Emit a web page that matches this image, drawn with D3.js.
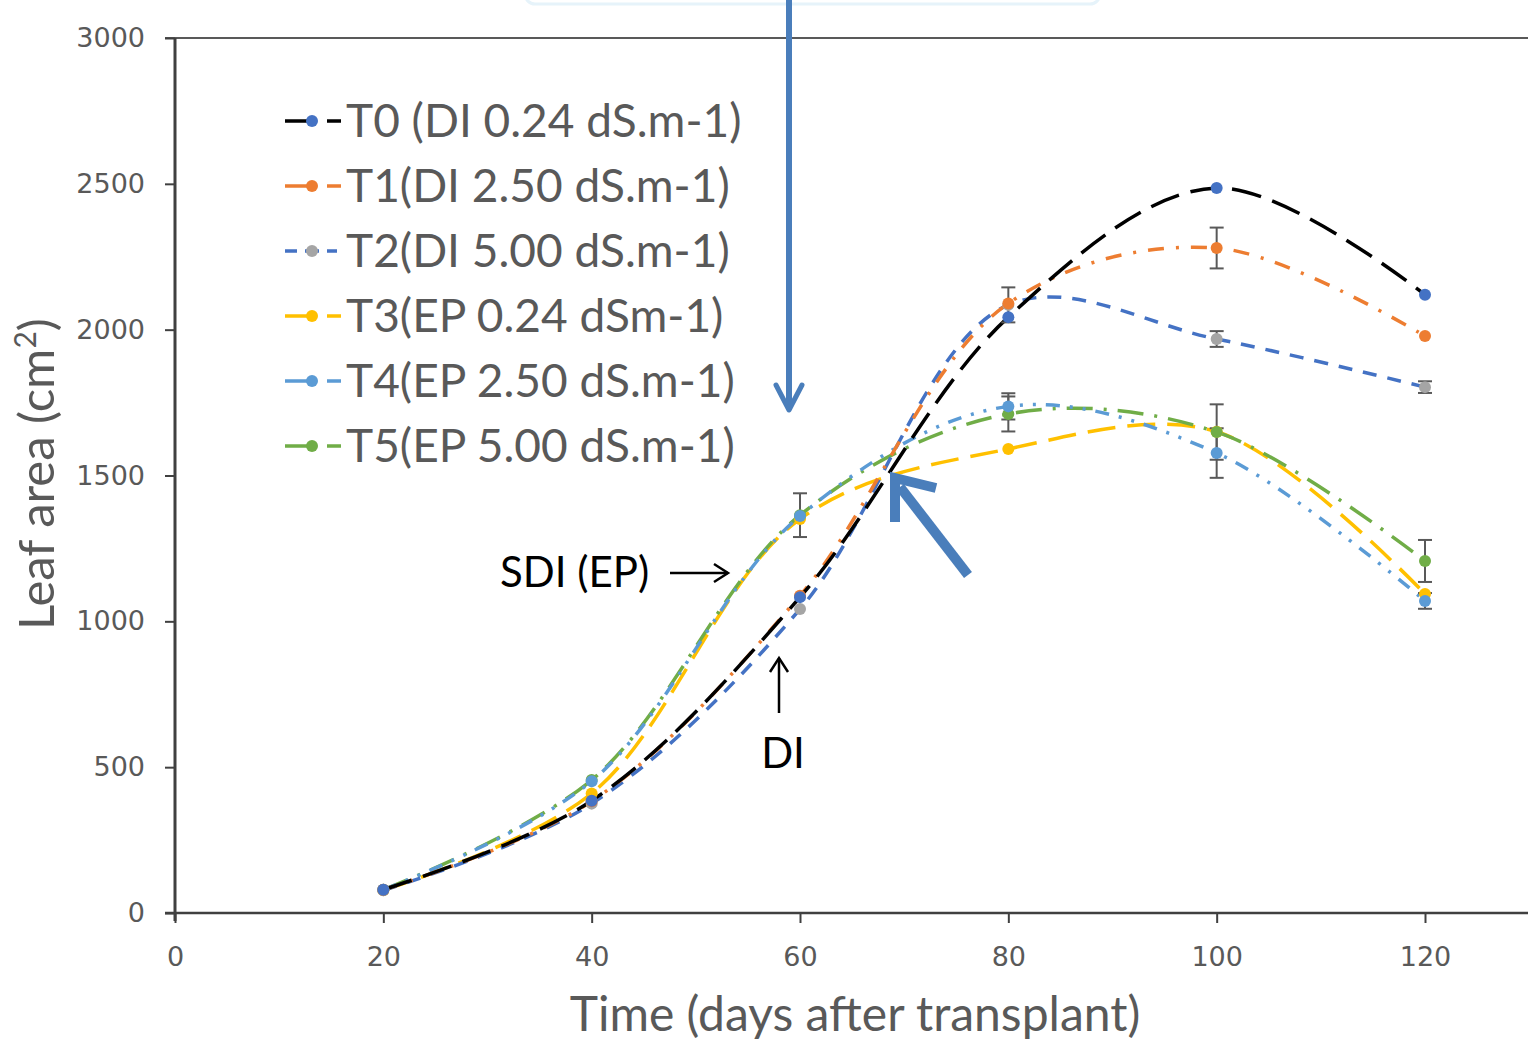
<!DOCTYPE html>
<html>
<head>
<meta charset="utf-8">
<script src="https://cdn.jsdelivr.net/npm/d3@7"></script>
<style>
  body { margin: 0; background: #fff; }
  svg { display: block; }
</style>
</head>
<body>
<svg id="chart" width="1528" height="1040"></svg>
<script>
// days after transplant
var days = [20, 40, 60, 80, 100, 120];

// leaf area (cm2) per treatment
var t0 = [80, 385, 1083, 2043, 2486, 2120];
var t1 = [80, 383, 1088, 2090, 2280, 1978];
var t2 = [78, 375, 1042, 2085, 1968, 1803];
var t3 = [78, 410, 1351, 1591, 1650, 1094];
var t4 = [80, 452, 1361, 1737, 1577, 1070];
var t5 = [80, 456, 1364, 1711, 1649, 1207];

// error bars (+/-), 0 = none shown
var t0Err = [0, 0, 0, 0, 0, 0];
var t1Err = [0, 0, 0, 0, 70, 0];
var t2Err = [0, 0, 0, 60, 27, 20];
var t3Err = [0, 0, 0, 0, 0, 0];
var t4Err = [0, 0, 0, 45, 85, 27];
var t5Err = [0, 0, 75, 60, 95, 72];

var names = ["T0 (DI 0.24 dS.m-1)", "T1(DI 2.50 dS.m-1)", "T2(DI 5.00 dS.m-1)",
             "T3(EP 0.24 dSm-1)", "T4(EP 2.50 dS.m-1)", "T5(EP 5.00 dS.m-1)"];

var xTicks = [0, 20, 40, 60, 80, 100, 120];
var yTicks = [0, 500, 1000, 1500, 2000, 2500, 3000];

(function() {

  var series = [
    { name: names[0], values: t0, err: t0Err, line: "#000000", marker: "#4472C4", dash: "30,12" },
    { name: names[1], values: t1, err: t1Err, line: "#ED7D31", marker: "#ED7D31", dash: "16,12,3,12" },
    { name: names[2], values: t2, err: t2Err, line: "#4472C4", marker: "#A5A5A5", dash: "14,11" },
    { name: names[3], values: t3, err: t3Err, line: "#FFC000", marker: "#FFC000", dash: "28,12" },
    { name: names[4], values: t4, err: t4Err, line: "#5B9BD5", marker: "#5B9BD5", dash: "14,10,3,10,3,10" },
    { name: names[5], values: t5, err: t5Err, line: "#70AD47", marker: "#70AD47", dash: "26,11,3,11" }
  ];

  var svg = d3.select("#chart");
  var plotLeft = 175, plotRight = 1528, plotTop = 38, plotBottom = 913;

  var x = d3.scaleLinear().domain([0, 120]).range([plotLeft, plotLeft + 1250]);
  var y = d3.scaleLinear().domain([0, 3000]).range([plotBottom, plotTop]);

  // faint callout box edge at the very top
  svg.append("rect")
    .attr("x", 525).attr("y", -40).attr("width", 575).attr("height", 44)
    .attr("rx", 10)
    .attr("fill", "#fff")
    .attr("stroke", "#e6f3fa").attr("stroke-width", 3);

  // top frame line
  svg.append("line").attr("x1", plotLeft - 10).attr("x2", plotRight).attr("y1", plotTop).attr("y2", plotTop)
    .attr("stroke", "#595959").attr("stroke-width", 2);

  var gx = svg.append("g").attr("transform", "translate(0," + plotBottom + ")")
    .call(d3.axisBottom(x).tickValues(xTicks).tickSize(10).tickSizeOuter(0));
  gx.select(".domain").remove();
  gx.append("line").attr("x1", plotLeft - 10).attr("x2", plotRight).attr("y1", 0).attr("y2", 0)
    .attr("stroke", "#404040").attr("stroke-width", 2.5);

  var gy = svg.append("g").attr("transform", "translate(" + plotLeft + ",0)")
    .call(d3.axisLeft(y).tickValues(yTicks).tickFormat(d3.format("d")).tickSize(10).tickSizeOuter(0));
  gy.select(".domain").remove();
  gy.append("line").attr("x1", 0).attr("x2", 0).attr("y1", plotTop).attr("y2", plotBottom + 8)
    .attr("stroke", "#404040").attr("stroke-width", 3);

  [gx, gy].forEach(function(g) {
    g.selectAll(".tick line").attr("stroke", "#404040").attr("stroke-width", 2);
    g.selectAll(".tick text")
      .style("font-family", "DejaVu Sans, sans-serif")
      .style("font-size", "27px")
      .attr("fill", "#595959");
  });
  gx.selectAll(".tick text").attr("y", 34).attr("dy", "0.71em");
  gy.selectAll(".tick text").attr("x", -30).attr("dy", "0.32em");

  // axis titles
  svg.append("text")
    .attr("x", 855).attr("y", 1031)
    .attr("text-anchor", "middle")
    .style("font-family", "Lato, sans-serif").style("font-size", "48px")
    .attr("fill", "#595959")
    .text("Time (days after transplant)");

  var yt = svg.append("text")
    .attr("transform", "translate(54,474) rotate(-90)")
    .attr("text-anchor", "middle")
    .style("font-family", "Lato, sans-serif").style("font-size", "49px")
    .attr("fill", "#595959");
  yt.append("tspan").text("Leaf area (cm");
  yt.append("tspan").attr("baseline-shift", "super").style("font-size", "30px").text("2");
  yt.append("tspan").text(")");

  // lines
  var line = d3.line()
    .x(function(d) { return x(d[0]); })
    .y(function(d) { return y(d[1]); })
    .curve(d3.curveCatmullRom.alpha(0.5));

  var order = [3, 5, 4, 2, 1, 0];
  order.forEach(function(i) {
    var s = series[i];
    var pts = days.map(function(d, k) { return [d, s.values[k]]; });
    svg.append("path")
      .attr("d", line(pts))
      .attr("fill", "none")
      .attr("stroke", s.line)
      .attr("stroke-width", 3.5)
      .attr("stroke-dasharray", s.dash);
  });

  // error bars
  series.forEach(function(s) {
    days.forEach(function(d, k) {
      var e = s.err[k];
      if (!e) return;
      var g = svg.append("g").attr("stroke", "#595959").attr("stroke-width", 2);
      g.append("line").attr("x1", x(d)).attr("x2", x(d))
        .attr("y1", y(s.values[k] - e)).attr("y2", y(s.values[k] + e));
      [s.values[k] - e, s.values[k] + e].forEach(function(v) {
        g.append("line").attr("x1", x(d) - 7).attr("x2", x(d) + 7)
          .attr("y1", y(v)).attr("y2", y(v));
      });
    });
  });

  // markers
  order.forEach(function(i) {
    var s = series[i];
    svg.selectAll(null)
      .data(days.map(function(d, k) { return [d, s.values[k]]; }))
      .enter().append("circle")
      .attr("cx", function(d) { return x(d[0]); })
      .attr("cy", function(d) { return y(d[1]); })
      .attr("r", 6)
      .attr("fill", s.marker);
  });

  // legend
  var legend = svg.append("g");
  series.forEach(function(s, i) {
    var ly = 121 + i * 65;
    legend.append("line")
      .attr("x1", 285).attr("x2", 341).attr("y1", ly).attr("y2", ly)
      .attr("stroke", s.line).attr("stroke-width", 3.5)
      .attr("stroke-dasharray", i === 2 ? "12,8,14,8,10,10" : "22,20,14,0");
    legend.append("circle").attr("cx", 312).attr("cy", ly).attr("r", 6).attr("fill", s.marker);
    legend.append("text")
      .attr("x", 346).attr("y", ly + 16)
      .style("font-family", "Lato, sans-serif").style("font-size", "46px")
      .attr("fill", "#595959")
      .text(s.name);
  });

  // annotations
  var blue = "#4A7EBB";
  svg.append("line").attr("x1", 789).attr("x2", 789).attr("y1", 0).attr("y2", 410)
    .attr("stroke", blue).attr("stroke-width", 6);
  svg.append("path").attr("d", "M776,385 L789,410 L802,385")
    .attr("fill", "none").attr("stroke", blue).attr("stroke-width", 5)
    .attr("stroke-linejoin", "round").attr("stroke-linecap", "round");

  svg.append("line").attr("x1", 968).attr("x2", 900).attr("y1", 575).attr("y2", 487)
    .attr("stroke", blue).attr("stroke-width", 10).attr("stroke-linecap", "butt");
  svg.append("path").attr("d", "M895,522 L895,478 L936,488")
    .attr("fill", "none").attr("stroke", blue).attr("stroke-width", 10)
    .attr("stroke-linejoin", "miter");

  svg.append("text").attr("x", 500).attr("y", 587)
    .style("font-family", "Lato, sans-serif").style("font-size", "42px")
    .attr("fill", "#000").text("SDI (EP)");
  svg.append("line").attr("x1", 670).attr("x2", 728).attr("y1", 573).attr("y2", 573)
    .attr("stroke", "#000").attr("stroke-width", 2.5);
  svg.append("path").attr("d", "M714,564 L728,573 L714,582")
    .attr("fill", "none").attr("stroke", "#000").attr("stroke-width", 2.5);

  svg.append("line").attr("x1", 779).attr("x2", 779).attr("y1", 713).attr("y2", 658)
    .attr("stroke", "#000").attr("stroke-width", 2.5);
  svg.append("path").attr("d", "M770,672 L779,658 L788,672")
    .attr("fill", "none").attr("stroke", "#000").attr("stroke-width", 2.5);
  svg.append("text").attr("x", 783).attr("y", 768).attr("text-anchor", "middle")
    .style("font-family", "Lato, sans-serif").style("font-size", "42px")
    .attr("fill", "#000").text("DI");

})();
</script>
</body>
</html>
